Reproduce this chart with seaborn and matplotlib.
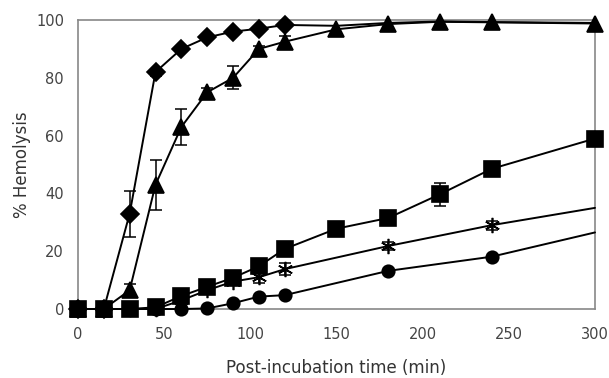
import numpy as np
import pandas as pd
import matplotlib
matplotlib.use("Agg")
import matplotlib.pyplot as plt
import seaborn as sns

# ---- data ----
time = [0, 15, 30, 45, 60, 75, 90, 105, 120, 150, 180, 210, 240, 300]
diamond = [0, 0, 33, 82, 90, 94, 96, 97, 98.3, 98, 99, 99.5, 99.3, 99]
diamond_err = [0, 0, 8, 1.2, 0, 0, 0, 0, 0, 0, 0, 0, 0, 0]
triangle = [0, 0, 6.5, 43, 63, 75, 80, 90, 92.5, 96.8, 98.6, 99.4, 99.2, 98.8]
triangle_err = [0, 0, 2, 8.6, 6.2, 1.5, 4, 1, 2, 0, 0, 0, 0, 0]
square = [0, 0, 0, 0.6, 4.5, 7.7, 10.8, 14.8, 20.8, 27.8, 31.5, 39.7, 48.5, 59]
square_err = [0, 0, 0, 0, 0, 0, 0, 0, 0, 0, 2, 4, 1, 2]
star_time = [0, 15, 30, 45, 60, 75, 90, 105, 120, 180, 240, 300]
star = [0, 0, 0, 0, 3, 6.5, 9.5, 11, 13.8, 21.8, 29, 35]
star_err = [0, 0, 0, 0, 0, 0, 0, 2, 2, 1.5, 1.5, 0]
circle_time = [0, 15, 30, 45, 60, 75, 90, 105, 120, 180, 240, 300]
circle = [0, 0, 0, 0, 0, 0.2, 2, 4.3, 4.8, 13.2, 18.1, 26.5]

xticks = [0, 50, 100, 150, 200, 250, 300]
yticks = [0, 20, 40, 60, 80, 100]

sns.set_style("white")
plt.rcParams['font.family'] = ['DejaVu Sans']

fig = plt.figure(figsize=(6.09, 3.78), dpi=100)
ax = fig.add_axes([0.128, 0.1825, 0.849, 0.7645])

# (x, y, err, marker, size, number of leading points that show a marker)
specs = [
    (circle_time, circle, None, 'o', 9, len(circle_time) - 1),
    (star_time, star, star_err, (6, 2, 0), 11, len(star_time) - 1),
    (time, square, square_err, 's', 12, len(time)),
    (time, triangle, triangle_err, '^', 11, len(time)),
    (time, diamond, diamond_err, 'D', 9, 9),
]

for t, v, err, mk, ms, nmark in specs:
    df = pd.DataFrame({'t': t, 'v': v})
    sns.lineplot(data=df, x='t', y='v', ax=ax, color='black', linewidth=1.4,
                 marker=mk, markersize=ms, markeredgecolor='black',
                 markerfacecolor='black', markeredgewidth=1.2,
                 markevery=list(range(nmark)), clip_on=False, zorder=3)
    if err is not None:
        tt = [a for a, e in zip(t, err) if e > 0]
        vv = [b for b, e in zip(v, err) if e > 0]
        ee = [e for e in err if e > 0]
        ax.errorbar(tt, vv, yerr=ee, fmt='none', ecolor='black',
                    elinewidth=1.1, capsize=4, capthick=1.1, zorder=4,
                    clip_on=False)

ax.set_xlim(0, 300)
ax.set_ylim(0, 100)
ax.set_xticks(xticks)
ax.set_yticks(yticks)
ax.tick_params(axis='both', length=0, labelsize=10.5, labelcolor='#444444')
ax.tick_params(axis='x', pad=13)
ax.tick_params(axis='y', pad=10)
for s in ax.spines.values():
    s.set_color('#888888')
    s.set_linewidth(1.2)
ax.set_xlabel('Post-incubation time (min)', fontsize=12, color='#333333', labelpad=12)
ax.set_ylabel('% Hemolysis', fontsize=12, color='#333333', labelpad=4)

fig.savefig('out.png', dpi=100)
